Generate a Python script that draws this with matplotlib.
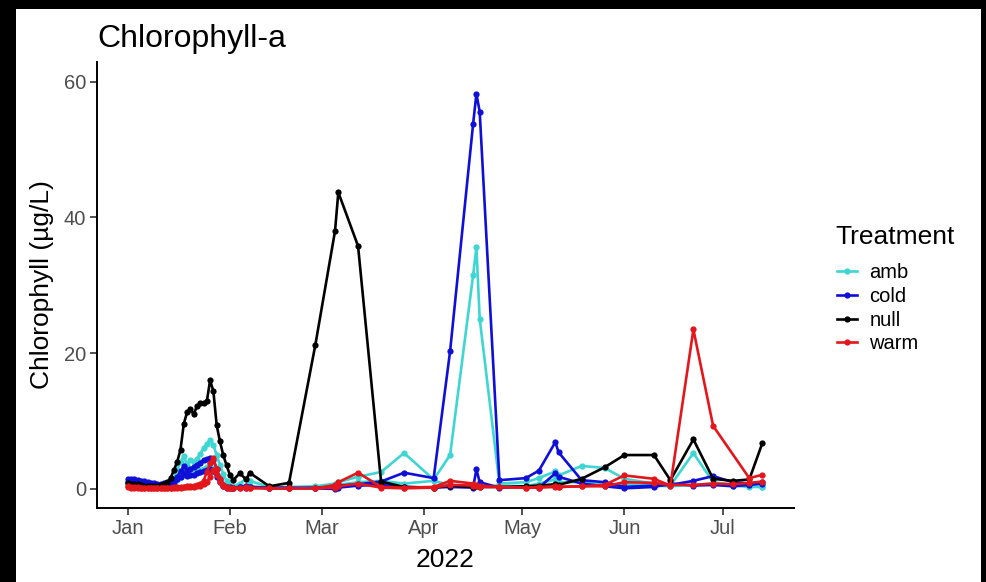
import numpy as np
import pandas as pd
import matplotlib
matplotlib.use("Agg")
import matplotlib.pyplot as plt
import matplotlib.dates as mdates
from matplotlib.lines import Line2D
from matplotlib.patches import Rectangle

plt.rcParams['font.family'] = ['Liberation Sans', 'DejaVu Sans']

# ---------------- data ----------------
jan_dates = list(pd.date_range("2022-01-01", "2022-01-31", freq="D").strftime("%Y-%m-%d"))
later_dates = ["2022-02-01", "2022-02-02", "2022-02-04", "2022-02-06", "2022-02-07",
               "2022-02-13", "2022-02-19", "2022-02-27", "2022-03-05", "2022-03-06",
               "2022-03-12", "2022-03-19", "2022-03-26", "2022-04-04", "2022-04-09",
               "2022-04-16", "2022-04-17", "2022-04-18", "2022-04-24", "2022-05-02",
               "2022-05-06", "2022-05-11", "2022-05-12", "2022-05-19", "2022-05-26",
               "2022-06-01", "2022-06-10", "2022-06-15", "2022-06-22", "2022-06-28",
               "2022-07-04", "2022-07-09", "2022-07-13"]
dates = jan_dates + later_dates

treatments = ["amb", "cold", "null", "warm"]
colors = {"amb": "#3ED6D3", "cold": "#0F0FD8", "null": "#000000", "warm": "#E3161B"}

amb_a = [1.0, 1.0, 0.9, 0.8, 0.8, 0.7, 0.6, 0.6, 0.5, 0.5, 0.6, 0.6, 0.7, 0.9, 1.5, 2.8,
         4.0, 4.8, 3.6, 4.3, 4.0, 4.4, 5.2, 6.0, 6.7, 7.2, 6.5, 5.0, 3.5, 2.2, 1.2,
         0.8, 0.4, 0.8, 1.5, 1.2, 0.3, 0.3, 0.4, 0.8, 1.0, 1.8, 2.5, 5.3, 1.4, 5.0,
         31.5, 35.6, 25.1, 0.8, 1.0, 1.6, 2.6, 2.0, 3.4, 3.1, 1.5, 0.8, 0.5, 5.3,
         1.0, 0.6, 0.4, 0.3]
amb_b = [0.7, 0.7, 0.6, 0.6, 0.5, 0.5, 0.4, 0.4, 0.4, 0.4, 0.5, 0.5, 0.5, 0.6, 0.9, 1.3,
         1.8, 2.5, 2.2, 2.0, 2.4, 2.6, 2.8, 3.0, 3.3, 3.8, 3.0, 2.0, 1.2, 0.6, 0.3,
         0.2, 0.2, 0.3, 0.5, 0.4, 0.2, 0.2, 0.3, 0.5, 0.6, 1.0, 1.2, 0.8, 1.2, 0.6,
         0.5, 0.5, 0.4, 0.5, 0.4, 0.8, 1.4, 1.0, 1.0, 0.6, 0.7, 0.5, 0.4, 0.6,
         0.8, 0.5, 0.3, 0.3]
cold_a = [1.5, 1.4, 1.4, 1.3, 1.2, 1.2, 1.0, 0.9, 0.9, 0.8, 0.8, 0.9, 0.9, 1.0, 1.3, 1.8,
          2.6, 3.4, 2.8, 3.0, 3.3, 3.6, 3.9, 4.3, 4.4, 4.5, 4.2, 3.0, 1.5, 0.6, 0.2,
          0.1, 0.1, 0.3, 0.2, 0.3, 0.1, 0.1, 0.2, 0.3, 0.5, 0.7, 1.1, 2.4, 1.6, 20.3,
          53.8, 58.2, 55.6, 1.3, 1.6, 2.7, 6.9, 5.4, 1.3, 1.0, 0.3, 0.5, 0.6, 1.2,
          1.9, 1.0, 0.8, 1.0]
cold_b = [1.1, 1.0, 1.0, 0.9, 0.9, 0.8, 0.8, 0.7, 0.7, 0.6, 0.6, 0.6, 0.7, 0.8, 1.0, 1.4,
          1.8, 2.2, 1.9, 2.0, 2.1, 2.3, 2.5, 2.6, 2.8, 3.0, 2.6, 1.8, 1.0, 0.5, 0.3,
          0.3, 0.2, 0.3, 0.4, 0.3, 0.2, 0.2, 0.1, 0.0, 0.2, 0.5, 0.6, 0.3, 0.2, 0.3,
          0.2, 2.9, 1.0, 0.2, 0.3, 0.2, 2.3, 1.8, 0.8, 0.4, 0.1, 0.3, 0.8, 0.5,
          0.6, 0.4, 0.6, 0.8]
null_a = [0.9, 0.8, 0.7, 0.8, 0.6, 0.5, 0.5, 0.4, 0.4, 0.5, 0.6, 0.7, 1.0, 1.6, 2.8, 4.0,
          5.8, 9.6, 11.3, 11.8, 11.0, 12.2, 12.6, 12.7, 12.9, 16.0, 14.4, 9.4, 7.0, 5.0, 3.5,
          2.1, 1.3, 2.3, 1.4, 2.4, 0.4, 0.9, 21.2, 38.0, 43.7, 35.8, 1.1, 0.3, 0.2, 0.5,
          0.3, 0.4, 0.3, 0.3, 0.4, 0.5, 0.7, 0.6, 1.5, 3.2, 5.0, 5.0, 1.3, 7.3,
          1.5, 1.2, 1.4, 6.8]
warm_a = [0.4, 0.3, 0.3, 0.3, 0.2, 0.2, 0.2, 0.2, 0.2, 0.2, 0.2, 0.2, 0.2, 0.2, 0.3, 0.3,
          0.3, 0.3, 0.4, 0.4, 0.5, 0.6, 0.8, 1.2, 2.5, 3.8, 4.5, 3.0, 1.5, 0.6, 0.3,
          0.2, 0.2, 0.2, 0.3, 0.2, 0.1, 0.1, 0.1, 0.6, 1.0, 2.4, 0.3, 0.2, 0.3, 1.2,
          0.8, 0.6, 0.5, 0.3, 0.2, 0.3, 0.4, 0.3, 0.4, 0.6, 2.0, 1.5, 0.5, 23.5,
          9.3, np.nan, 1.6, 2.1]
warm_b = [0.3, 0.2, 0.2, 0.2, 0.2, 0.1, 0.1, 0.1, 0.1, 0.1, 0.1, 0.1, 0.1, 0.2, 0.2, 0.2,
          0.2, 0.3, 0.3, 0.3, 0.3, 0.4, 0.5, 0.7, 1.0, 1.8, 2.8, 2.0, 1.0, 0.4, 0.2,
          0.1, 0.1, 0.1, 0.2, 0.1, 0.1, 0.1, 0.1, 0.2, 0.4, 0.8, 0.2, 0.1, 0.2, 0.6,
          0.5, 0.4, 0.3, 0.3, 0.2, 0.2, 0.3, 0.3, 0.4, 0.4, 1.0, 0.9, 0.6, 0.6,
          0.8, 0.7, 0.9, 1.1]

series = [("amb", amb_a), ("amb", amb_b), ("cold", cold_a), ("cold", cold_b),
          ("null", null_a), ("warm", warm_a), ("warm", warm_b)]

# ---------------- figure ----------------
W, H = 987, 582
fig = plt.figure(figsize=(W / 100, H / 100), dpi=100)
fig.patch.set_facecolor("black")
bg = Rectangle((16 / W, 0), (981 - 16) / W, (582 - 9) / H,
               transform=fig.transFigure, facecolor="white",
               edgecolor="none", zorder=-10)
fig.patches.append(bg)

ax = fig.add_axes([97 / W, (H - 508) / H, (794 - 97) / W, (508 - 62) / H])
ax.set_facecolor("white")
ax.set_zorder(1)

LW, MS = 1.9, 4.5
x = pd.to_datetime(dates)
for trt, vals in series:
    v = np.array(vals, dtype=float)
    m = ~np.isnan(v)
    ax.plot(x[m], v[m], color=colors[trt], lw=LW, marker="o", ms=MS,
            markeredgewidth=0, solid_joinstyle="round")

base = mdates.date2num(pd.Timestamp("2022-01-01"))
ax.set_xlim(base - 9.4, base + 202.6)
ax.set_ylim(-2.8, 62.9)
ax.xaxis.set_major_locator(mdates.MonthLocator())
ax.xaxis.set_major_formatter(mdates.DateFormatter("%b"))
ax.set_yticks([0, 20, 40, 60])

for s in ["top", "right"]:
    ax.spines[s].set_visible(False)
for s in ["left", "bottom"]:
    ax.spines[s].set_linewidth(1.4)
    ax.spines[s].set_color("black")
ax.tick_params(axis="both", length=5, width=1.2, color="#333333",
               labelsize=14.5, labelcolor="#4D4D4D", pad=3)

ax.set_xlabel("2022", fontsize=19, labelpad=7)
ax.set_ylabel("Chlorophyll (µg/L)", fontsize=19, labelpad=7)
ax.set_title("Chlorophyll-a", fontsize=23, loc="left", pad=11)

# legend
fig.text(835 / W, 1 - 237 / H, "Treatment", fontsize=19, ha="left", va="center")
handles = [Line2D([0], [0], color=colors[t], lw=LW, marker="o", ms=MS,
                  markeredgewidth=0) for t in treatments]
leg = fig.legend(handles, treatments, loc="upper left",
                 bbox_to_anchor=(837 / W, 1 - 263 / H), frameon=False,
                 fontsize=14.5, handlelength=1.0, handletextpad=0.6,
                 labelspacing=0.24, borderaxespad=0, borderpad=0)
leg.set_zorder(2)

fig.savefig("out.png", dpi=100, facecolor=fig.get_facecolor())
